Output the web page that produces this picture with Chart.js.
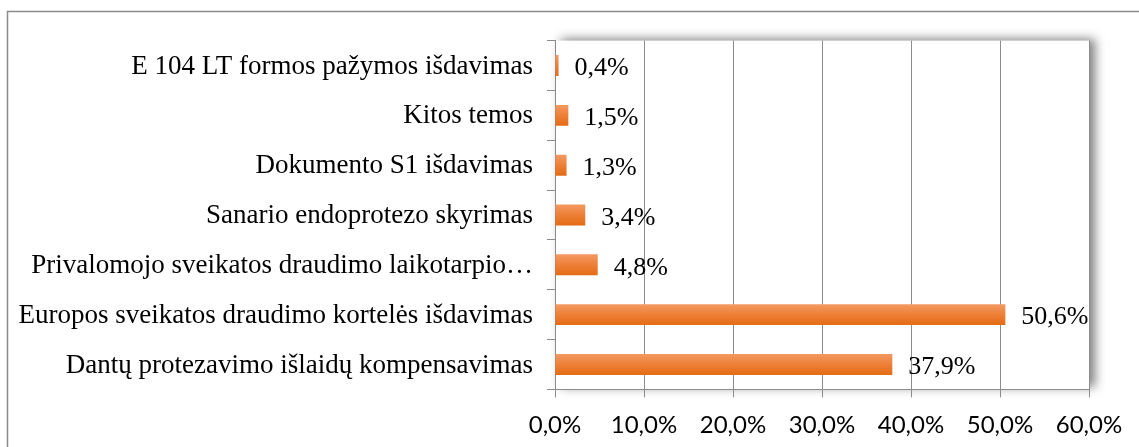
<!DOCTYPE html>
<html>
<head>
<meta charset="utf-8">
<script src="https://cdn.jsdelivr.net/npm/chart.js@4"></script>
<style>
  body { margin: 0; background: #fff; }
  #wrap { position: relative; width: 1139px; height: 447px; }
</style>
</head>
<body>
<div id="wrap"><canvas id="grafikas"></canvas></div>
<script>
const temos = [
    'E 104 LT formos pažymos išdavimas',
    'Kitos temos',
    'Dokumento S1 išdavimas',
    'Sanario endoprotezo skyrimas',
    'Privalomojo sveikatos draudimo laikotarpio…',
    'Europos sveikatos draudimo kortelės išdavimas',
    'Dantų protezavimo išlaidų kompensavimas'
];
const procentai = [0.4, 1.5, 1.3, 3.4, 4.8, 50.6, 37.9];
const asiesZymos = [0, 10, 20, 30, 40, 50, 60];

const pilka = '#8c8c8c';

function procentas(v) {
    return v.toFixed(1).replace('.', ',') + '%';
}

// remelis ir seselis aplink braizymo sriti
const fonas = {
    id: 'fonas',
    beforeDraw(chart) {
        const ctx = chart.ctx;
        const a = chart.chartArea;
        ctx.save();
        ctx.strokeStyle = pilka;
        ctx.lineWidth = 1.5;
        ctx.beginPath();
        ctx.moveTo(7.5, chart.height);
        ctx.lineTo(7.5, 11.5);
        ctx.lineTo(chart.width, 11.5);
        ctx.stroke();

        ctx.shadowColor = 'rgba(0,0,0,0.5)';
        ctx.shadowBlur = 10;
        ctx.shadowOffsetX = 6;
        ctx.shadowOffsetY = -2;
        ctx.fillStyle = '#fff';
        ctx.fillRect(a.left, a.top, a.right - a.left, a.bottom - a.top);
        ctx.restore();
    }
};

// reiksmes prie stulpeliu
const reiksmes = {
    id: 'reiksmes',
    afterDatasetsDraw(chart) {
        const ctx = chart.ctx;
        ctx.save();
        ctx.font = '26px "Liberation Serif", "Times New Roman", serif';
        ctx.fillStyle = '#000';
        ctx.textAlign = 'left';
        ctx.textBaseline = 'middle';
        chart.getDatasetMeta(0).data.forEach((bar, i) => {
            ctx.fillText(procentas(procentai[i]), bar.x + 16, bar.y + 3);
        });
        ctx.restore();
    }
};

new Chart(document.getElementById('grafikas'), {
    type: 'bar',
    data: {
        labels: temos,
        datasets: [{
            data: procentai,
            backgroundColor: (c) => {
                const chart = c.chart;
                const y = chart.scales.y;
                const yc = y ? y.getPixelForValue(c.dataIndex) : NaN;
                if (!isFinite(yc)) return '#ec7a2c';
                const g = chart.ctx.createLinearGradient(0, yc - 10.5, 0, yc + 10.5);
                g.addColorStop(0, '#f39a62');
                g.addColorStop(0.5, '#ee7f37');
                g.addColorStop(1, '#e46b14');
                return g;
            },
            borderWidth: 0,
            barPercentage: 0.6,
            categoryPercentage: 0.7
        }]
    },
    options: {
        indexAxis: 'y',
        responsive: true,
        maintainAspectRatio: false,
        animation: false,
        layout: { padding: { top: 40.6, right: 50, bottom: 0, left: 0 } },
        plugins: {
            legend: { display: false },
            tooltip: { enabled: false }
        },
        scales: {
            x: {
                min: 0,
                max: 60,
                afterBuildTicks: (s) => { s.ticks = asiesZymos.map(v => ({ value: v })); },
                afterFit: (s) => { s.height = 57.6; },
                ticks: {
                    callback: (v) => procentas(v),
                    font: { family: 'Lato', size: 24 },
                    color: '#000',
                    padding: 13,
                    maxRotation: 0
                },
                grid: { color: pilka, tickLength: 8, lineWidth: 1 },
                border: { color: pilka, width: 1 }
            },
            y: {
                afterFit: (s) => { s.width = 555; },
                ticks: {
                    font: { family: '"Liberation Serif", "Times New Roman", serif', size: 27 },
                    color: '#000',
                    padding: 14,
                    labelOffset: 1
                },
                grid: { drawOnChartArea: false, color: pilka, tickLength: 8 },
                border: { color: pilka, width: 1 }
            }
        }
    },
    plugins: [fonas, reiksmes]
});
</script>
</body>
</html>
